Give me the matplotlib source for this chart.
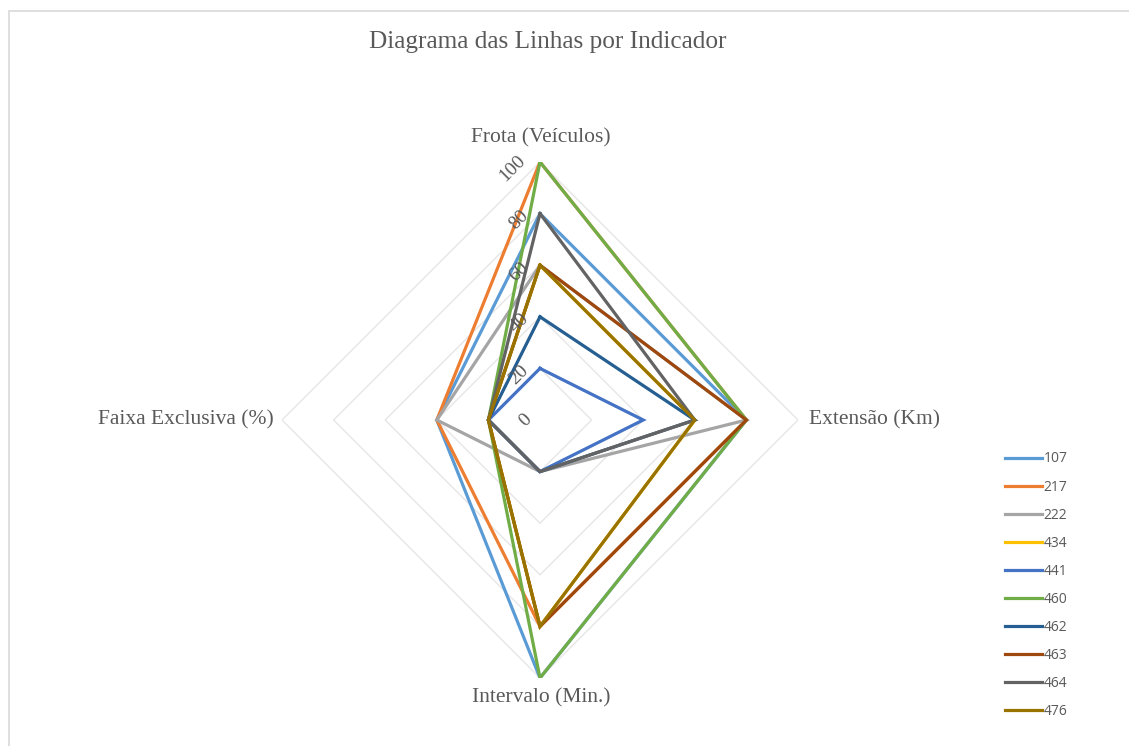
import numpy as np
import matplotlib
matplotlib.use("Agg")
import matplotlib.pyplot as plt
from matplotlib.transforms import ScaledTranslation
from matplotlib.patches import Rectangle
from matplotlib.lines import Line2D

title = "Diagrama das Linhas por Indicador"
categories = ["Frota (Veículos)", "Extensão (Km)", "Intervalo (Min.)", "Faixa Exclusiva (%)"]
series_names = ["107", "217", "222", "434", "441", "460", "462", "463", "464", "476"]
v107 = [80, 80, 100, 40]
v217 = [100, 80, 80, 40]
v222 = [60, 80, 20, 40]
v434 = [60, 60, 80, 20]
v441 = [20, 40, 20, 20]
v460 = [100, 80, 100, 20]
v462 = [40, 60, 20, 20]
v463 = [60, 80, 80, 20]
v464 = [80, 60, 20, 20]
v476 = [60, 60, 80, 20]
series_values = [v107, v217, v222, v434, v441, v460, v462, v463, v464, v476]
colors = ["#5B9BD5", "#ED7D31", "#A5A5A5", "#FFC000", "#4472C4",
          "#70AD47", "#255E91", "#9E480E", "#636363", "#997300"]
rticks = [0, 20, 40, 60, 80, 100]

W, H = 1129, 746
fig = plt.figure(figsize=(W / 100, H / 100), dpi=100)
fig.patch.set_facecolor("white")

# chart area border (top and left visible)
fig.patches.append(Rectangle((9 / W, -0.05), 1.1, 1 - 11 / H + 0.05, transform=fig.transFigure,
                             fill=False, edgecolor="#D9D9D9", linewidth=1.2))

cx, cy, R = 540, 420, 258
ax = fig.add_axes([(cx - R) / W, (H - cy - R) / H, 2 * R / W, 2 * R / H], projection="polar")
ax.set_theta_offset(np.pi / 2)
ax.set_theta_direction(-1)
ax.set_ylim(0, 100)
ax.grid(False)
ax.spines["polar"].set_visible(False)
ax.set_xticks([])
ax.set_yticks([])
ax.patch.set_alpha(0)

n = len(categories)
theta = np.linspace(0, 2 * np.pi, n, endpoint=False)
theta_c = np.concatenate([theta, theta[:1]])

# polygonal gridlines
for r in rticks[1:]:
    ax.plot(theta_c, [r] * (n + 1), color="#E6E6E6", lw=1.0, zorder=1)

for vals, col in zip(series_values, colors):
    v = list(vals) + [vals[0]]
    ax.plot(theta_c, v, color=col, lw=2.3, zorder=3, solid_joinstyle="miter")

serif = "Liberation Serif"
txtcol = "#595959"
# radial tick labels
for r in rticks:
    lab = str(r)
    dx = -(6 + 4.5 * len(lab)) / 72.0
    tr = ax.transData + ScaledTranslation(dx, 0, fig.dpi_scale_trans)
    ax.text(0, max(r - 2.5, 0.01), lab, transform=tr, rotation=45, ha="center", va="center",
            fontsize=14, family=serif, color=txtcol, zorder=4)

fs = 15.5
# category labels
fig.text(541 / W, 1 - 138 / H, categories[0], ha="center", va="center", fontsize=fs,
         family=serif, color=txtcol)
fig.text(809 / W, 1 - 420 / H, categories[1], ha="left", va="center", fontsize=fs,
         family=serif, color=txtcol)
fig.text(541 / W, 1 - 698 / H, categories[2], ha="center", va="center", fontsize=fs,
         family=serif, color=txtcol)
fig.text(274 / W, 1 - 420 / H, categories[3], ha="right", va="center", fontsize=fs,
         family=serif, color=txtcol)

fig.text(548 / W, 1 - 42 / H, title, ha="center", va="center", fontsize=18.2,
         family=serif, color=txtcol)

handles = [Line2D([0], [0], color=c, lw=2.3) for c in colors]
leg = fig.legend(handles, series_names, loc="upper left", bbox_to_anchor=(992 / W, 1 - 439 / H),
                 frameon=False, handlelength=2.7, handletextpad=0.1, labelspacing=0.94,
                 prop={"family": "Open Sans", "size": 10})
for t in leg.get_texts():
    t.set_color(txtcol)

fig.savefig("out.png", dpi=100)
